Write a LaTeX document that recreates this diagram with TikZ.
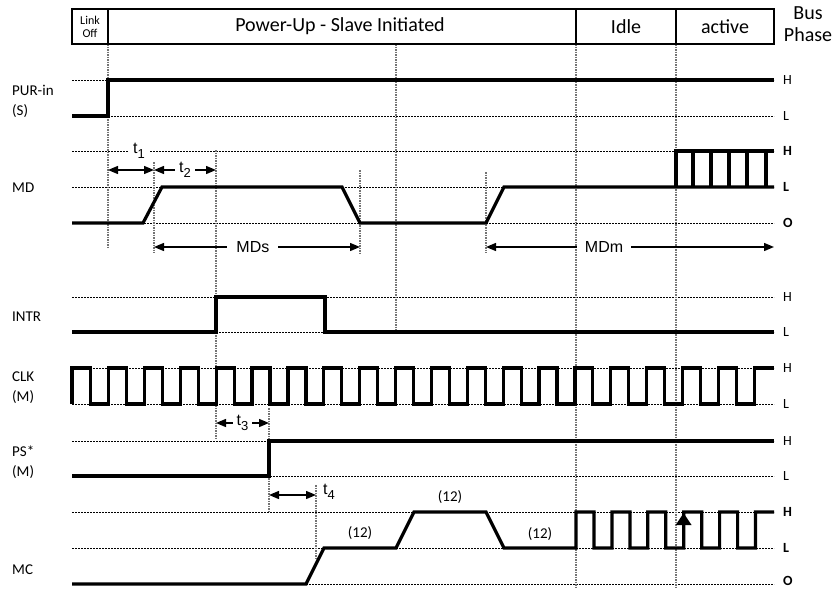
\documentclass[tikz,border=0pt]{standalone}
\usepackage{fontspec}
\setmainfont{Carlito}
\newfontfamily\arialfont{Liberation Sans}
\usetikzlibrary{arrows.meta}
\tikzstyle{phase} = [font=\fontsize{20}{22}\selectfont, inner sep=0pt]
\tikzstyle{signame} = [font=\fontsize{15}{20}\selectfont, anchor=west,
    align=left, inner sep=0pt]
\tikzstyle{level} = [font=\fontsize{14}{14}\selectfont, anchor=west, inner sep=0pt]
\tikzstyle{wave} = [line width=3.2pt, line join=miter]
\tikzstyle{guide} = [dash pattern=on 2pt off 1pt, line width=0.8pt, black]
\tikzstyle{tick} = [dash pattern=on 1.5pt off 1pt, line width=1.4pt, black!55]
\tikzstyle{span} = [{Triangle[length=10pt,width=8pt]}-{Triangle[length=10pt,width=8pt]},
    line width=1.4pt]
\tikzstyle{spanlabel} = [font=\arialfont\fontsize{16}{16}\selectfont,
    fill=white, inner xsep=4pt, inner ysep=2pt]
\newcommand{\tsub}[1]{t\raisebox{-0.3em}{\fontsize{13}{13}\selectfont #1}}

\begin{document}
\begin{tikzpicture}[x=1pt, y=-1pt]
        \useasboundingbox (0,0) rectangle (838,589);

        % Level guides
        \foreach \y in {80,116,151,187,223,297,332,368,404,441,476,512,548,584}
            \draw[guide] (72,\y) -- (774,\y);

        % Time marks
        \draw[tick] (108,44) -- (108,247);
        \draw[tick] (396,44) -- (396,332);
        \draw[tick] (576,44) -- (576,587);
        \draw[tick] (676,44) -- (676,587);
        \draw[tick] (154,162) -- (154,253);
        \draw[tick] (216,150) -- (216,440);
        \draw[tick] (360,170) -- (360,253);
        \draw[tick] (486,172) -- (486,253);
        \draw[tick] (269,408) -- (269,512);
        \draw[tick] (316,485) -- (316,560);

        % Bus phase header
        \draw[line width=1.5pt] (72,9) rectangle (774,44);
        \draw[line width=1.5pt] (108,9) -- (108,44);
        \draw[line width=1.5pt] (576,9) -- (576,44);
        \draw[line width=1.5pt] (676,9) -- (676,44);
        \node[font=\fontsize{12}{13}\selectfont, align=center, inner sep=0pt]
            (linkoff) at (90,26.5) {Link\\Off};
        \node[phase] (powerup) at (340,26.5) {Power-Up - Slave Initiated};
        \node[phase] (idle) at (626,26.5) {Idle};
        \node[phase] (active) at (725,26.5) {active};
        \node[phase, align=center] (busphase) at (808,24) {Bus\\Phase};

        % Signal names
        \node[signame] (purin) at (12,101) {PUR-in\\(S)};
        \node[signame] (md) at (12,188) {MD};
        \node[signame] (intr) at (12,317) {INTR};
        \node[signame] (clk) at (12,388) {CLK\\(M)};
        \node[signame] (ps) at (12,462) {PS*\\(M)};
        \node[signame] (mc) at (12,570) {MC};

        % Levels
        \foreach \y/\t [count=\i] in {80/H,116/L,297/H,332/L,368/H,404/L,441/H,476/L}
            \node[level] (lv\i) at (783,\y) {\t};
        \foreach \y/\t [count=\i] in {151/H,187/L,223/O,512/H,548/L,581/O}
            \node[level, font=\fontsize{14}{14}\selectfont\bfseries] (lb\i) at (783,\y) {\t};

        % PUR-in
        \draw[wave] (72,116) -- (108,116) -- (108,80) -- (774,80);

        % MD
        \draw[wave] (72,223) -- (143,223) -- (162,187) -- (342,187) -- (360,223)
            -- (486,223) -- (504,187) -- (774,187);
        \draw[wave] (676,187) -- (676,151) -- (774,151);
        \foreach \x in {693,711,729,747,766}
            \draw[wave] (\x,151) -- (\x,187);

        % INTR
        \draw[wave] (72,332) -- (216,332) -- (216,297) -- (325,297) -- (325,332)
            -- (774,332);

        % CLK
        \draw[wave] (72,404) -- (72,368)
            foreach \k in {0,...,18} {
                -- ({90.7+35.87*\k},368) -- ({90.7+35.87*\k},404)
                -- ({108.6+35.87*\k},404) -- ({108.6+35.87*\k},368)
            } -- (774,368);

        % PS*
        \draw[wave] (72,476) -- (269,476) -- (269,441) -- (774,441);

        % MC
        \draw[wave] (72,584) -- (306,584) -- (324,548) -- (396,548) -- (414,512)
            -- (486,512) -- (504,548) -- (576,548)
            foreach \k in {0,...,4} {
                -- ({576+35.9*\k},512) -- ({594+35.9*\k},512)
                -- ({594+35.9*\k},548) -- ({611.9+35.9*\k},548)
            } -- (755.5,512) -- (774,512);
        \draw[line width=3.2pt, -{Triangle[length=12pt,width=15pt]}]
            (683.6,548) -- (683.6,513);
        \node[font=\fontsize{15}{15}\selectfont] (mcA) at (360,533) {(12)};
        \node[font=\fontsize{15}{15}\selectfont] (mcB) at (450,497) {(12)};
        \node[font=\fontsize{15}{15}\selectfont] (mcC) at (540,534) {(12)};

        % Timings
        \draw[span] (108,170) -- (154,170);
        \node[spanlabel] (t1) at (139,151) {\tsub{1}};
        \draw[span] (154,170) -- node[spanlabel] (t2) {\tsub{2}} (216,170);
        \draw[span] (154,247) -- node[spanlabel, inner xsep=9pt, pos=0.48] (mds)
            {MDs} (360,247);
        \draw[span] (486,247) -- node[spanlabel, inner xsep=8pt, pos=0.41] (mdm)
            {MDm} (774,247);
        \draw[span] (216,423) -- node[spanlabel] (t3) {\tsub{3}} (269,423);
        \draw[span] (269,495) -- (316,495);
        \node[spanlabel, anchor=west, fill=none] (t4) at (319,492) {\tsub{4}};
    \end{tikzpicture}
\end{document}
